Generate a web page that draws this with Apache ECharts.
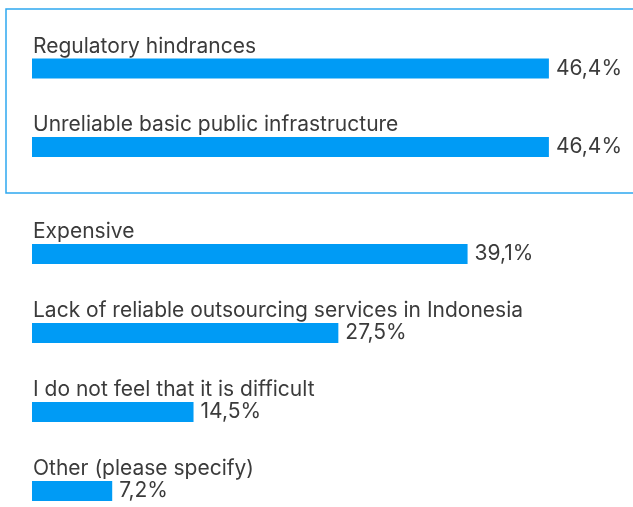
<!DOCTYPE html>
<html>
<head>
<meta charset="utf-8">
<script src="https://cdn.jsdelivr.net/npm/echarts@6/dist/echarts.min.js"></script>
<style>
  html, body { margin: 0; padding: 0; background: #ffffff; }
  #chart { width: 633px; height: 507px; }
</style>
</head>
<body>
<div id="chart"></div>
<script>
// Answers shown inside the highlighted frame
var topCategories = ['Regulatory hindrances', 'Unreliable basic public infrastructure'];
var topValues = [46.4, 46.4];

// Remaining answers
var restCategories = [
  'Expensive',
  'Lack of reliable outsourcing services in Indonesia',
  'I do not feel that it is difficult',
  'Other (please specify)'
];
var restValues = [39.1, 27.5, 14.5, 7.2];

var FONT = 'Inter, "Noto Sans", sans-serif';
var TEXT_COLOR = '#3b3b3b';
var BAR_COLOR = '#009bf5';
var FONT_SIZE = 21;

function pct(v) {
  return v.toFixed(1).replace('.', ',') + '%';
}

// Category names sit above their bars: the label is two lines tall and
// centred on the bar, so the text line ends up one row above it.
function yAxisFor(gridIndex, cats) {
  return {
    type: 'category',
    gridIndex: gridIndex,
    data: cats,
    inverse: true,
    boundaryGap: false,
    axisLine: { show: false },
    axisTick: { show: false },
    splitLine: { show: false },
    axisLabel: {
      inside: true,
      interval: 0,
      showMinLabel: true,
      showMaxLabel: true,
      hideOverlap: false,
      margin: 1,
      align: 'left',
      verticalAlign: 'middle',
      fontFamily: FONT,
      fontSize: FONT_SIZE,
      lineHeight: 44,
      color: TEXT_COLOR,
      formatter: function (v) { return v + '\n '; }
    },
    z: 5
  };
}

function xAxisFor(gridIndex) {
  return {
    type: 'value',
    gridIndex: gridIndex,
    min: 0,
    max: 50,
    show: false
  };
}

function barSeries(idx, values) {
  return {
    type: 'bar',
    xAxisIndex: idx,
    yAxisIndex: idx,
    data: values,
    barWidth: 20,
    itemStyle: { color: BAR_COLOR },
    silent: true,
    label: {
      show: true,
      position: 'right',
      distance: 7,
      fontFamily: FONT,
      fontSize: FONT_SIZE,
      color: TEXT_COLOR,
      formatter: function (p) { return pct(p.value); }
    }
  };
}

var chart = echarts.init(document.getElementById('chart'), null, { renderer: 'canvas' });
chart.setOption({
  animation: false,
  backgroundColor: '#ffffff',
  grid: [
    { left: 32, width: 557, top: 68.5, height: 78.5, containLabel: false, outerBoundsMode: 'none' },
    { left: 32, width: 557, top: 254, height: 237, containLabel: false, outerBoundsMode: 'none' }
  ],
  xAxis: [xAxisFor(0), xAxisFor(1)],
  yAxis: [yAxisFor(0, topCategories), yAxisFor(1, restCategories)],
  graphic: [{
    type: 'rect',
    shape: { x: 6, y: 9, width: 640, height: 184 },
    style: { fill: 'none', stroke: '#2ea8f0', lineWidth: 1.5 },
    silent: true,
    z: 0
  }],
  series: [barSeries(0, topValues), barSeries(1, restValues)]
});
</script>
</body>
</html>
